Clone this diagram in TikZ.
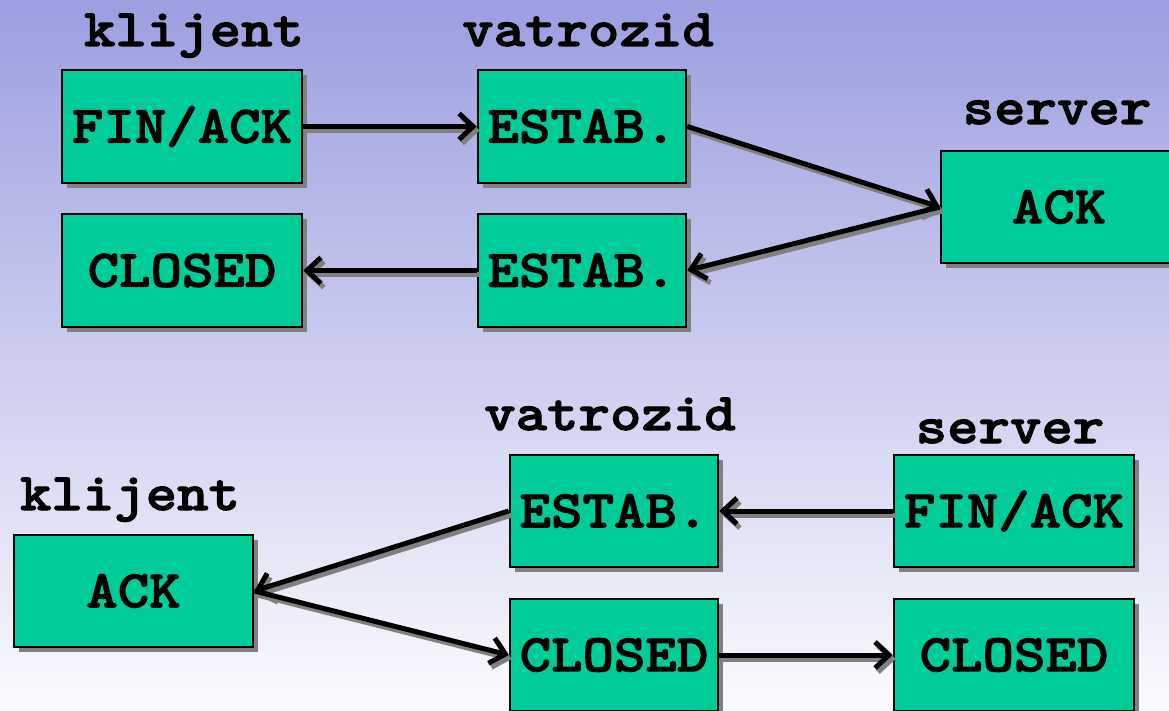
\documentclass[tikz,border=0pt]{standalone}
\usepackage{fontspec}
\newfontfamily\courb[Extension=.otf, FakeStretch=1.13, FakeBold=2]{lmmonolt10-bold}
\usetikzlibrary{arrows.meta,shadows}
\definecolor{boxgreen}{HTML}{00CC99}
\definecolor{shadowgray}{HTML}{808080}
\definecolor{bgtop}{HTML}{9C9EE0}
\definecolor{bgmid}{HTML}{D2D2F0}
\definecolor{bgbot}{HTML}{FBFBFE}
\tikzset{
  lbl/.style={font=\courb\fontsize{53}{53}\selectfont, anchor=base, inner sep=0pt},
  stbox/.style={rectangle, draw=black, line width=2.5pt, fill=boxgreen, inner sep=0pt,
    font=\courb\fontsize{53}{53}\selectfont,
    drop shadow={shadow xshift=5pt, shadow yshift=-5pt, fill=shadowgray, opacity=1}},
  conn/.style={line width=5pt, draw=black,
    -{Straight Barb[length=14pt,width=26pt]},
    preaction={draw=shadowgray, line width=5pt, -{Straight Barb[length=14pt,width=26pt]},
      transform canvas={shift={(3pt,-4pt)}}}}
}
\begin{document}
\begin{tikzpicture}[x=1pt,y=-1pt]
\useasboundingbox (0,0) rectangle (1169,711);
\shade[top color=bgtop, middle color=bgmid, bottom color=bgbot] (0,0) rectangle (1169,711);
% labels
\node[lbl] (lk1) at (194,46) {klijent};
\node[lbl] (lv1) at (588,46) {vatrozid};
\node[lbl] (ls1) at (1057,124) {server};
\node[lbl] (lv2) at (610,430) {vatrozid};
\node[lbl] (ls2) at (1010,443) {server};
\node[lbl] (lk2) at (130,510) {klijent};
% top boxes
\node[stbox, minimum width=240pt, minimum height=113pt] (kfin) at (182,126.5) {FIN/ACK};
\node[stbox, minimum width=240pt, minimum height=113pt] (kclosed) at (182,270.5) {CLOSED};
\node[stbox, minimum width=208pt, minimum height=113pt] (vest1) at (582,126.5) {ESTAB.};
\node[stbox, minimum width=208pt, minimum height=113pt] (vest2) at (582,270.5) {ESTAB.};
\node[stbox, minimum width=236pt, minimum height=112pt] (sack) at (1059,207) {ACK};
% bottom boxes
\node[stbox, minimum width=239pt, minimum height=112pt] (kack) at (133.5,591) {ACK};
\node[stbox, minimum width=208pt, minimum height=112pt] (vest3) at (614,511) {ESTAB.};
\node[stbox, minimum width=208pt, minimum height=112pt] (vclosed) at (614,655) {CLOSED};
\node[stbox, minimum width=240pt, minimum height=112pt] (sfin) at (1014,511) {FIN/ACK};
\node[stbox, minimum width=240pt, minimum height=112pt] (sclosed) at (1014,655) {CLOSED};
% connectors
\draw[conn] (kfin.east) -- (vest1.west);
\draw[conn] (vest1.east) -- (sack.west);
\draw[conn] (sack.west) -- (vest2.east);
\draw[conn] (vest2.west) -- (kclosed.east);
\draw[conn] (sfin.west) -- (vest3.east);
\draw[conn] (vest3.west) -- (kack.east);
\draw[conn] (kack.east) -- (vclosed.west);
\draw[conn] (vclosed.east) -- (sclosed.west);
\end{tikzpicture}
\end{document}
